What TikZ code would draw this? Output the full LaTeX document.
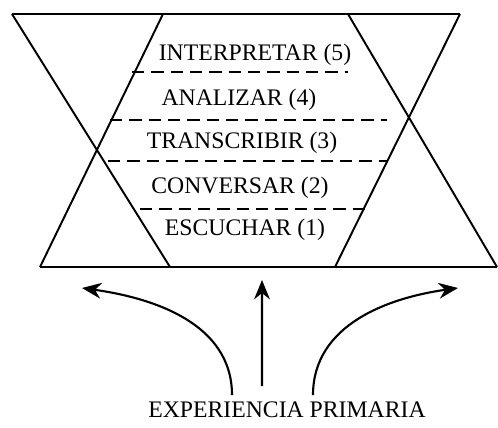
\documentclass[tikz,border=0pt]{standalone}
\usepackage{fontspec}
\setmainfont{Liberation Serif}
\usetikzlibrary{arrows.meta}
\begin{document}
\begin{tikzpicture}[x=0.02cm,y=-0.02cm,line width=1.1pt,
  level/.style={font=\fontsize{13.5}{16}\selectfont},
  sep/.style={dash pattern=on 7pt off 4pt,line width=1pt},
  rise/.style={-{Stealth[length=11pt,width=9pt]},line width=1.2pt}]
\useasboundingbox (0,0) rectangle (498,427);
\draw (12,14) -- (460,14);
\draw (40,267) -- (497,267);
\draw (12,14) -- (170,267);
\draw (163,14) -- (40,267);
\draw (348,14) -- (497,267);
\draw (460,14) -- (335,267);
\draw[sep] (132,72) -- (348,72);
\draw[sep] (110,120) -- (387,120);
\draw[sep] (108,161) -- (387,161);
\draw[sep] (140,209) -- (365,209);
\node[level] (interp) at (255,55) {INTERPRETAR (5)};
\node[level] (anal) at (239,100) {ANALIZAR (4)};
\node[level] (trans) at (242,143) {TRANSCRIBIR (3)};
\node[level] (conv) at (240,188) {CONVERSAR (2)};
\node[level] (escu) at (245,230) {ESCUCHAR (1)};
\node[level] (exper) at (287,410) {EXPERIENCIA PRIMARIA};
\coordinate (tipl) at (82,288);
\coordinate (tipm) at (262,280);
\coordinate (tipr) at (458,288);
\draw[rise] ([xshift=-1.1cm]exper.north) to[out=90,in=-8] (tipl);
\draw[rise] ([xshift=-0.5cm,yshift=0.18cm]exper.north) -- (tipm);
\draw[rise] ([xshift=0.52cm]exper.north) to[out=90,in=188] (tipr);
\end{tikzpicture}
\end{document}
